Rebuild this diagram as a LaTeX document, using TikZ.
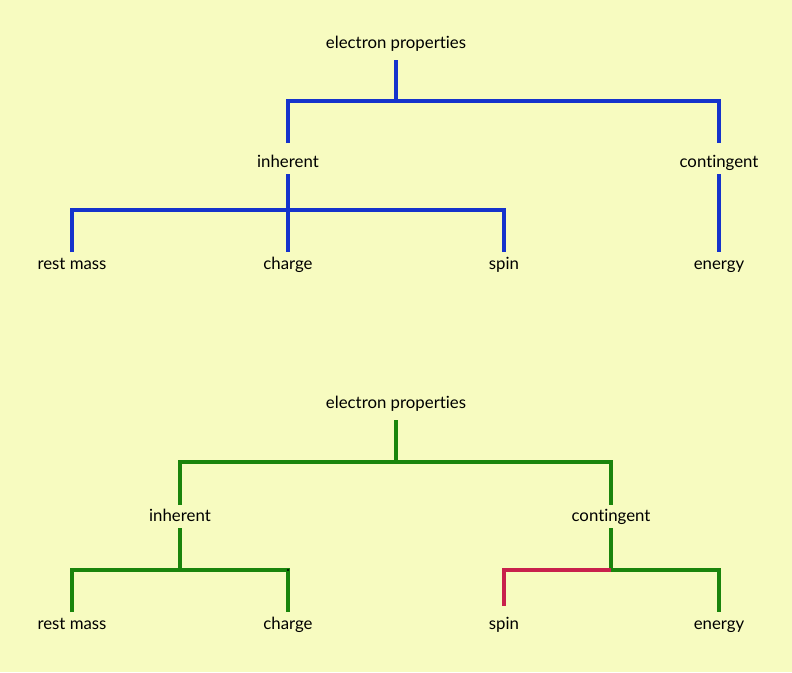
\documentclass[tikz,border=0pt]{standalone}
\usepackage{fontspec}
\setmainfont{Lato}[Ligatures=NoCommon]
\definecolor{bg}{HTML}{F7FBC0}
\definecolor{tblue}{HTML}{1533CC}
\definecolor{tgreen}{HTML}{1A840C}
\definecolor{tred}{HTML}{C8204C}
\begin{document}
\begin{tikzpicture}[x=0.75pt,y=-0.75pt,
  lbl/.style={anchor=base,font=\fontsize{12.6}{14}\selectfont,inner sep=0pt,text=black},
  bline/.style={draw=tblue,line width=2.3pt},
  gline/.style={draw=tgreen,line width=2.3pt},
  rline/.style={draw=tred,line width=2.3pt}]
\fill[bg] (0,0) rectangle (792,672);
\useasboundingbox (0,0) rectangle (792,672);
% top tree
\node[lbl] (t) at (396,48) {electron properties};
\node[lbl] (ti) at (288,167) {inherent};
\node[lbl] (tc) at (719,167) {contingent};
\node[lbl] (trm) at (72,269) {rest mass};
\node[lbl] (tch) at (288,269) {charge};
\node[lbl] (tsp) at (504,269) {spin};
\node[lbl] (ten) at (719,269) {energy};
\coordinate (t-b) at (396,60);
\coordinate (t-j) at (396,101);
\coordinate (ti-t) at (288,143);
\coordinate (tc-t) at (719,143);
\coordinate (ti-b) at (288,174);
\coordinate (ti-j) at (288,210);
\coordinate (trm-t) at (72,252);
\coordinate (tch-t) at (288,252);
\coordinate (tsp-t) at (504,252);
\coordinate (tc-b) at (719,174);
\coordinate (ten-t) at (719,252);
\draw[bline] (t-b) -- (t-j);
\draw[bline] (ti-t) |- (t-j) -| (tc-t);
\draw[bline] (ti-b) -- (tch-t);
\draw[bline] (trm-t) |- (ti-j) -| (tsp-t);
\draw[bline] (tc-b) -- (ten-t);
% bottom tree
\node[lbl] (b) at (396,408) {electron properties};
\node[lbl] (bi) at (180,521) {inherent};
\node[lbl] (bc) at (611,521) {contingent};
\node[lbl] (brm) at (72,629) {rest mass};
\node[lbl] (bch) at (288,629) {charge};
\node[lbl] (bsp) at (504,629) {spin};
\node[lbl] (ben) at (719,629) {energy};
\coordinate (b-b) at (396,420);
\coordinate (b-j) at (396,462);
\coordinate (bi-t) at (180,505);
\coordinate (bc-t) at (611,505);
\coordinate (bi-b) at (180,528);
\coordinate (bi-j) at (180,570);
\coordinate (brm-t) at (72,612);
\coordinate (bch-t) at (288,612);
\coordinate (bc-b) at (611,528);
\coordinate (bc-j) at (611,570);
\coordinate (bsp-t) at (504,606);
\coordinate (ben-t) at (719,612);
\draw[gline] (b-b) -- (b-j);
\draw[gline] (bi-t) |- (b-j) -| (bc-t);
\draw[gline] (bi-b) -- (bi-j);
\draw[gline] (brm-t) |- (bi-j) -| (bch-t);
\draw[gline] (bc-b) -- (bc-j) -| (ben-t);
\draw[rline] (bc-j) -| (bsp-t);
\fill[black] (288,570) circle (1.2);
\end{tikzpicture}
\end{document}
